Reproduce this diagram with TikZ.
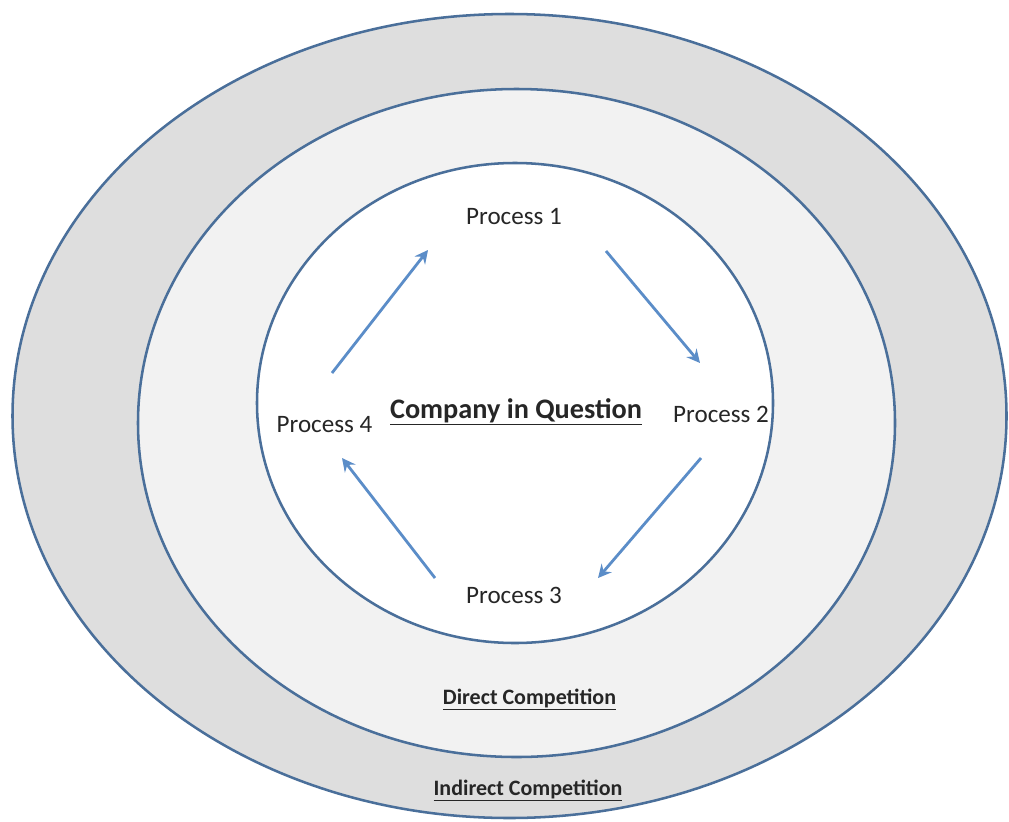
\documentclass[tikz,border=0pt]{standalone}
\usepackage{fontspec}
\setmainfont{Carlito}
\usetikzlibrary{arrows.meta}
\definecolor{ringline}{HTML}{4A6F9A}
\definecolor{arrowblue}{HTML}{5B8DC8}
\definecolor{outerfill}{HTML}{DEDEDE}
\definecolor{midfill}{HTML}{F2F2F2}
\tikzset{
  ring/.style={draw=ringline, line width=1.9pt},
  proc/.style={anchor=base, inner sep=0pt, font=\fontsize{18.8}{21}\selectfont, text=black!85},
  lbl/.style={anchor=base, inner sep=0pt, font=\bfseries\fontsize{16.5}{18}\selectfont, text=black!85},
  flow/.style={draw=arrowblue, line width=2.1pt, -{Stealth[length=10pt,width=10pt,inset=3.5pt]}}
}
\begin{document}
\begin{tikzpicture}[x=0.75pt,y=-0.75pt]
\useasboundingbox (0,0) rectangle (1009,821);
\fill[white] (0,0) rectangle (1009,821);
% rings
\path[ring, fill=outerfill] (509.5,416) ellipse [x radius=497, y radius=402];
\path[ring, fill=midfill] (516.5,423) ellipse [x radius=378.5, y radius=334];
\path[ring, fill=white] (515,403) ellipse [x radius=258, y radius=240];
% texts
\node[proc] (p1) at (514,224) {Process 1};
\node[proc] (p2) at (721,422) {Process 2};
\node[proc] (p3) at (514,603) {Process 3};
\node[proc] (p4) at (324.5,432) {Process 4};
\node[anchor=base, inner sep=0pt, font=\bfseries\fontsize{21.2}{23}\selectfont, text=black!85] (co) at (516,418) {\underline{Company in Question}};
\node[lbl] (dc) at (529.5,704) {\underline{Direct Competition}};
\node[lbl] (ic) at (528,795) {\underline{Indirect Competition}};
% arrow ends
\coordinate (a1s) at (332,373); \coordinate (a1e) at (428,250);
\coordinate (a2s) at (606,251); \coordinate (a2e) at (700,363);
\coordinate (a3s) at (701,458); \coordinate (a3e) at (598,578);
\coordinate (a4s) at (435,578); \coordinate (a4e) at (342,458);
\draw[flow] (a1s) -- (a1e);
\draw[flow] (a2s) -- (a2e);
\draw[flow] (a3s) -- (a3e);
\draw[flow] (a4s) -- (a4e);
\end{tikzpicture}
\end{document}
